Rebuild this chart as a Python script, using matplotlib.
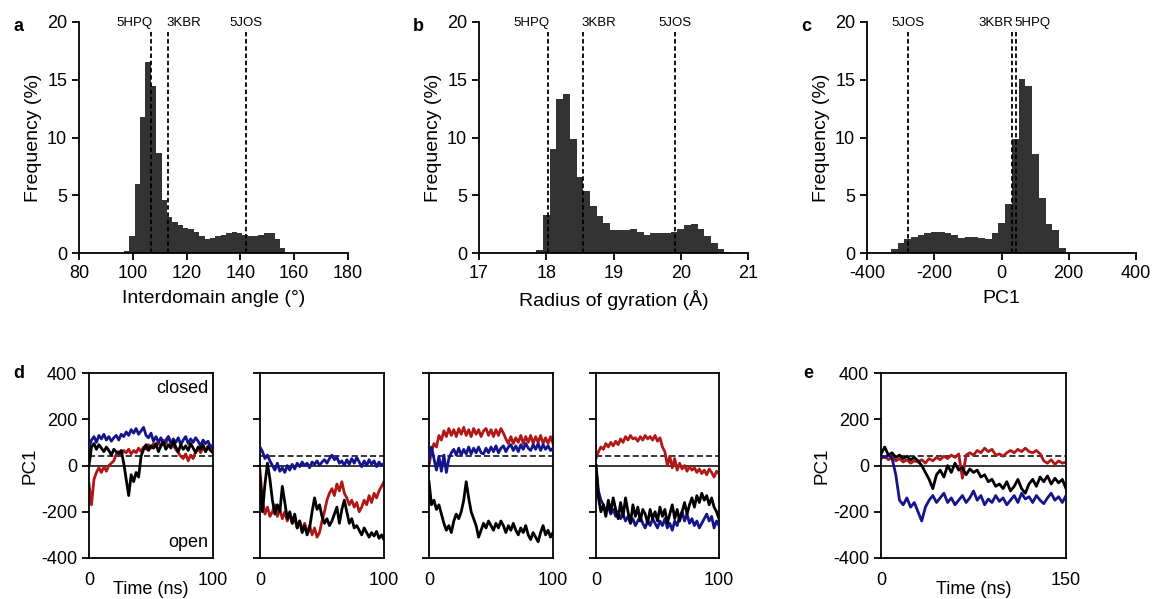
import numpy as np
import matplotlib
matplotlib.use("Agg")
import matplotlib.pyplot as plt

plt.rcParams['font.family'] = ['Liberation Sans', 'DejaVu Sans']
plt.rcParams['axes.unicode_minus'] = False

# ---------------- histogram data (frequency %) ----------------
angle_start, angle_width = 96.7, 2.0
angle_freq = [0.15, 1.5, 6.0, 11.8, 16.5, 14.5, 8.7, 4.6, 3.1, 2.7, 2.4, 2.2, 2.1,
              1.8, 1.5, 1.25, 1.3, 1.5, 1.6, 1.7, 1.8, 1.75, 1.6, 1.5, 1.45, 1.6,
              1.7, 1.7, 1.25, 0.4]

rg_start, rg_width = 17.85, 0.1
rg_freq = [0.3, 3.3, 9.0, 13.3, 13.8, 9.9, 6.6, 5.4, 4.1, 3.2, 2.6, 2.0, 2.0, 2.0,
           2.1, 1.85, 1.6, 1.7, 1.7, 1.7, 1.8, 2.1, 2.45, 2.55, 2.1, 1.5, 0.9,
           0.35, 0.1]

pc_start, pc_width = -329.0, 20.0
pc_freq = [0.35, 0.9, 1.2, 1.35, 1.55, 1.75, 1.8, 1.78, 1.7, 1.55, 1.3, 1.4, 1.38,
           1.3, 1.25, 1.7, 2.6, 4.2, 9.9, 15.1, 14.5, 8.6, 4.8, 2.5, 2.0, 0.4]

structures = ['5HPQ', '3KBR', '5JOS']
angle_ref = [106.8, 113.2, 142.0]
rg_ref = [18.02, 18.55, 19.92]
pc_ref = [43.0, 30.5, -277.0]

# ---------------- PC1 trajectories ----------------
t100 = np.arange(0, 101, 2)
t150 = np.arange(0, 151, 3)

d1_red = [-80, -170, -60, -30, -10, -30, -5, -25, 0, 10, 20, 50, 60, 45, 65, 55, 70,
          50, 65, 55, 75, 60, 80, 70, 90, 75, 95, 80, 100, 85, 110, 95, 125, 100, 85,
          70, 55, 40, 30, 50, 20, 45, 30, 60, 75, 55, 80, 60, 85, 70, 75]
d1_blue = [80, 110, 125, 100, 130, 115, 135, 110, 125, 105, 120, 130, 110, 135, 125,
           145, 130, 155, 140, 160, 135, 150, 165, 130, 120, 140, 105, 125, 100, 120,
           90, 110, 125, 95, 115, 100, 120, 90, 110, 125, 95, 115, 100, 120, 105, 85,
           110, 95, 105, 80, 90]
d1_black = [0, 80, 95, 70, 90, 75, 60, 80, 65, 45, 70, 60, 50, 65, 10, -60, -130, -40,
            -70, -30, -50, 40, 70, 90, 65, 85, 75, 95, 60, 85, 100, 70, 90, 75, 105,
            80, 60, 90, 70, 85, 65, 95, 75, 55, 80, 70, 90, 60, 80, 65, 55]

d2_red = [-20, -150, -210, -180, -220, -200, -170, -220, -190, -230, -200, -240, -210,
          -250, -230, -270, -240, -280, -250, -290, -260, -300, -270, -310, -290, -240,
          -200, -150, -120, -100, -130, -80, -110, -70, -120, -140, -170, -150, -180,
          -160, -200, -180, -150, -170, -130, -160, -120, -140, -110, -90, -70]
d2_blue = [80, 60, 30, 45, 20, 0, -20, 10, -25, -10, -30, 0, -20, 5, -15, 10, -5, 15,
           0, 10, -10, 15, 5, 20, 0, 15, 25, 10, 30, 45, 25, 35, 10, 20, 0, 25, 5, 30,
           10, 35, 15, -5, 20, 0, 25, 5, 20, -5, 15, 0, 10]
d2_black = [-50, -200, -80, 10, -60, -150, -210, -170, -200, -90, -160, -230, -200,
            -250, -210, -270, -240, -290, -260, -300, -270, -200, -140, -190, -170,
            -220, -250, -230, -260, -240, -210, -180, -250, -190, -150, -200, -250,
            -230, -270, -260, -280, -300, -270, -290, -310, -290, -305, -285, -315,
            -300, -320]

d3_red = [0, 60, 95, 80, 130, 110, 150, 125, 160, 130, 155, 125, 160, 135, 165, 130,
          155, 125, 160, 135, 155, 125, 150, 160, 130, 155, 125, 155, 130, 160, 140,
          115, 95, 125, 95, 120, 100, 130, 95, 125, 100, 130, 95, 125, 100, 130, 95,
          120, 95, 125, 95]
d3_blue = [20, 80, 30, -20, 40, -25, 45, -30, 30, 55, 70, 45, 75, 45, 70, 50, 80, 50,
           75, 55, 80, 55, 50, 75, 55, 80, 60, 85, 55, 75, 85, 60, 80, 90, 65, 85, 60,
           90, 70, 95, 75, 65, 90, 70, 95, 65, 90, 70, 85, 65, 75]
d3_black = [-70, -170, -150, -190, -170, -210, -250, -280, -260, -290, -240, -210,
            -230, -200, -150, -70, -140, -200, -230, -260, -310, -280, -250, -270,
            -240, -260, -280, -250, -270, -240, -260, -290, -260, -280, -250, -280,
            -300, -270, -290, -260, -300, -320, -290, -310, -330, -290, -260, -300,
            -280, -310, -290]

d4_red = [30, 60, 80, 70, 95, 80, 100, 85, 105, 90, 115, 100, 125, 110, 130, 115, 120,
          105, 125, 110, 130, 115, 125, 110, 130, 105, 120, 80, 60, 0, 40, -10, 30,
          -20, 10, -15, 0, -25, -5, -20, -10, -30, -15, -35, -20, -40, -15, -30, -50,
          -25, -35]
d4_blue = [0, -110, -150, -170, -200, -180, -210, -190, -220, -200, -230, -210, -240,
           -220, -250, -230, -260, -240, -220, -250, -270, -240, -260, -230, -250,
           -270, -240, -260, -230, -270, -250, -280, -240, -260, -220, -200, -240,
           -210, -250, -230, -260, -240, -270, -250, -230, -210, -240, -220, -270,
           -240, -260]
d4_black = [0, -140, -200, -170, -220, -150, -200, -140, -190, -230, -160, -220, -140,
            -200, -250, -170, -220, -180, -240, -190, -210, -250, -190, -230, -200,
            -240, -180, -220, -190, -250, -210, -170, -230, -190, -240, -200, -160,
            -210, -170, -140, -180, -130, -160, -120, -150, -130, -170, -140, -180,
            -200, -230]

e_red = [30, 40, 25, 35, 20, 30, 15, 25, 10, 20, 15, 25, 10, 30, 20, 35, 25, 40, 30,
         45, 35, 50, -55, 45, 55, 45, 65, 55, 75, 60, 70, 45, 50, 40, 55, 65, 55, 70,
         60, 75, 60, 55, 65, 50, 20, 10, 25, 5, 20, 10, 15]
e_blue = [40, 35, 45, 30, -40, -150, -170, -140, -180, -160, -200, -240, -180, -150,
          -130, -160, -140, -120, -160, -140, -170, -150, -130, -160, -140, -110, -150,
          -130, -170, -145, -160, -130, -155, -140, -170, -150, -130, -160, -120, -145,
          -135, -160, -130, -150, -165, -140, -120, -150, -135, -160, -130]
e_black = [50, 80, 45, 55, 35, 45, 30, 40, 25, 35, 20, 0, -30, -60, -100, -40, -20,
           -50, 0, -30, 10, -20, -10, -40, -15, -30, -20, -50, -40, -70, -60, -90, -80,
           -100, -70, -110, -90, -60, -100, -120, -80, -60, -90, -50, -70, -45, -80,
           -55, -75, -60, -100]

ref_closed = 43.0

RED = '#b01818'
BLUE = '#14148c'
BAR = '#333333'

fig = plt.figure(figsize=(11.53, 5.99), dpi=100)
W, H = 1153, 599


def px_axes(x0, y0, x1, y1):
    return fig.add_axes([x0 / W, 1 - y1 / H, (x1 - x0) / W, (y1 - y0) / H])


def hist_panel(ax, start, width, freq, xlim, xticks, xlabel, refs, letter, align):
    edges = start + width * np.arange(len(freq))
    ax.bar(edges, freq, width=width, align='edge', color=BAR, edgecolor='none')
    dx = (xlim[1] - xlim[0]) * 0.006
    for name, xv, ha in zip(structures, refs, align):
        ax.plot([xv, xv], [0, 19.1], ls=(0, (2.5, 1.5)), color='black', lw=1.3)
        off = {'left': -dx, 'right': dx, 'center': 0}[ha]
        ax.text(xv + off, 19.4, name, ha=ha, va='bottom', fontsize=9.5)
    ax.set_xlim(xlim)
    ax.set_ylim(0, 20)
    ax.set_xticks(xticks)
    ax.set_yticks([0, 5, 10, 15, 20])
    ax.spines['top'].set_visible(False)
    ax.spines['right'].set_visible(False)
    for s in ('left', 'bottom'):
        ax.spines[s].set_linewidth(1.3)
    ax.tick_params(direction='out', length=5, width=1.3, labelsize=13)
    ax.set_xlabel(xlabel, fontsize=14, labelpad=6)
    ax.set_ylabel('Frequency (%)', fontsize=14, labelpad=4)
    ax.text(-0.245, 0.98, letter, transform=ax.transAxes, fontsize=13,
            fontweight='bold', va='center', ha='left')


axa = px_axes(79, 22, 348, 253)
hist_panel(axa, angle_start, angle_width, angle_freq, (80, 180),
           [80, 100, 120, 140, 160, 180], 'Interdomain angle (\u00b0)', angle_ref, 'a',
           ['right', 'left', 'center'])
axb = px_axes(479, 22, 748, 253)
hist_panel(axb, rg_start, rg_width, rg_freq, (17, 21), [17, 18, 19, 20, 21],
           'Radius of gyration (\u00c5)', rg_ref, 'b', ['right', 'left', 'center'])
axc = px_axes(867, 22, 1136, 253)
hist_panel(axc, pc_start, pc_width, pc_freq, (-400, 400), [-400, -200, 0, 200, 400],
           'PC1', pc_ref, 'c', ['left', 'right', 'center'])


def traj_panel(ax, t, red, blue, black, tmax, show_labels):
    ax.axhline(0, color='black', lw=1.1, zorder=1)
    ax.axhline(ref_closed, color='black', lw=1.1, ls=(0, (4, 2)), zorder=1)
    ax.plot(t, red, color=RED, lw=2.0, zorder=2)
    ax.plot(t, blue, color=BLUE, lw=2.0, zorder=3)
    ax.plot(t, black, color='black', lw=2.0, zorder=4)
    ax.set_xlim(0, tmax)
    ax.set_ylim(-400, 400)
    ax.set_yticks([-400, -200, 0, 200, 400])
    ax.set_xticks([0, tmax])
    for s in ax.spines.values():
        s.set_linewidth(1.3)
    ax.tick_params(axis='y', direction='out', length=5, width=1.3, labelsize=13)
    ax.tick_params(axis='x', length=0, pad=10, labelsize=13)
    if not show_labels:
        ax.set_yticklabels([])


axd1 = px_axes(89, 373, 213, 558)
traj_panel(axd1, t100, d1_red, d1_blue, d1_black, 100, True)
axd1.set_ylabel('PC1', fontsize=13.5, labelpad=2)
axd1.set_xlabel('Time (ns)', fontsize=13, labelpad=-6)
axd1.text(0.96, 0.96, 'closed', transform=axd1.transAxes, ha='right', va='top',
          fontsize=13)
axd1.text(0.96, 0.04, 'open', transform=axd1.transAxes, ha='right', va='bottom',
          fontsize=13)
axd1.text(-0.61, 1.0, 'd', transform=axd1.transAxes, fontsize=13,
          fontweight='bold', va='center', ha='left')

axd2 = px_axes(260, 373, 384, 558)
traj_panel(axd2, t100, d2_red, d2_blue, d2_black, 100, False)
axd3 = px_axes(429, 373, 553, 558)
traj_panel(axd3, t100, d3_red, d3_blue, d3_black, 100, False)
axd4 = px_axes(596, 373, 719, 558)
traj_panel(axd4, t100, d4_red, d4_blue, d4_black, 100, False)

axe = px_axes(881, 373, 1066, 558)
traj_panel(axe, t150, e_red, e_blue, e_black, 150, True)
axe.set_ylabel('PC1', fontsize=13.5, labelpad=2)
axe.set_xlabel('Time (ns)', fontsize=13, labelpad=-6)
axe.text(-0.42, 1.0, 'e', transform=axe.transAxes, fontsize=13,
         fontweight='bold', va='center', ha='left')

fig.savefig('out.png', dpi=100)
